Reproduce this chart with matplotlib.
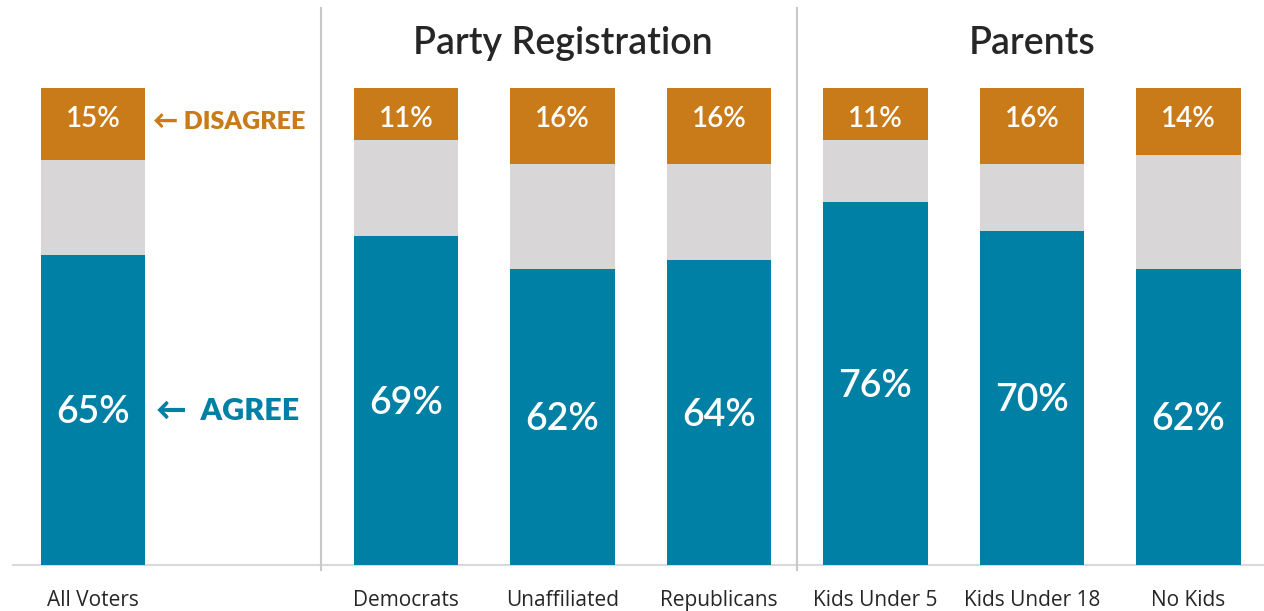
import matplotlib
matplotlib.use("Agg")
import matplotlib.pyplot as plt

# =========================
# Data
# =========================

groups = ["All Voters", "Democrats", "Unaffiliated", "Republicans",
          "Kids Under 5", "Kids Under 18", "No Kids"]
positions = [0, 2, 3, 4, 5, 6, 7]
agree = [65, 69, 62, 64, 76, 70, 62]
disagree = [15, 11, 16, 16, 11, 16, 14]
neutral = [100 - a - d for a, d in zip(agree, disagree)]

section_titles = ["Party Registration", "Parents"]
section_centers = [3, 6]
dividers = [1.457, 4.498]

TEAL = "#0080A4"
ORANGE = "#C97B1A"
GREY = "#D8D6D7"

# =========================
# Figure
# =========================

fig = plt.figure(figsize=(12.64, 6.11), dpi=100)
ax = fig.add_axes([0, 0, 1, 1])
ax.set_xlim(-93 / 156.5, (1264 - 93) / 156.5)
ax.set_ylim(-46 / 4.77, 565 / 4.77)
ax.axis("off")

width = 0.67
ax.bar(positions, agree, width, color=TEAL)
ax.bar(positions, neutral, width, bottom=agree, color=GREY)
bottoms = [a + n for a, n in zip(agree, neutral)]
ax.bar(positions, disagree, width, bottom=bottoms, color=ORANGE)

# baseline and dividers
ax.plot([-0.51, 7.6], [0, 0], color="#D9D9D9", lw=1.5, zorder=0)
for d in dividers:
    ax.plot([d, d], [-1.0, 116.8], color="#C8C8C8", lw=1.5, zorder=0)

# =========================
# Labels
# =========================

for x, a, d, g in zip(positions, agree, disagree, groups):
    ax.text(x, a / 2 - 0.6, f"{a}%", ha="center", va="center",
            color="white", fontsize=27, family="Lato", weight="semibold")
    ax.text(x, 93.5, f"{d}%", ha="center", va="center",
            color="white", fontsize=20, family="Lato", weight="semibold")
    ax.text(x, -7.4, g, ha="center", va="center",
            color="#262626", fontsize=15, family="Open Sans")

for t, c in zip(section_titles, section_centers):
    ax.text(c, 109.4, t, ha="center", va="center",
            color="#262626", fontsize=27, family="Lato", weight="semibold")

ax.text(0.385, 92.8, "\u2190 DISAGREE", ha="left", va="center",
        color=ORANGE, fontsize=18, family=["Lato", "DejaVu Sans"], weight="heavy")
ax.text(0.40, 32.3, "\u2190  AGREE", ha="left", va="center",
        color=TEAL, fontsize=22, family=["Lato", "DejaVu Sans"], weight="heavy")

fig.savefig("out.png", dpi=100)
